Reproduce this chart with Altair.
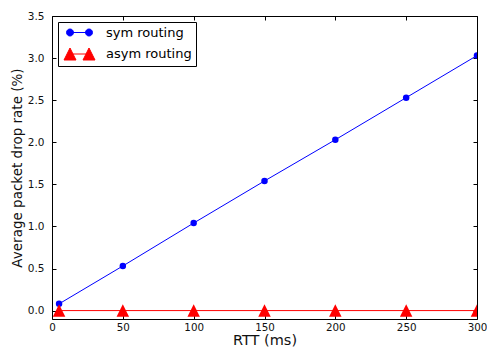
import altair as alt
import pandas as pd

# ---- data ----
rtt = [5, 50, 100, 150, 200, 250, 300]
sym_drop = [0.08, 0.53, 1.04, 1.54, 2.03, 2.53, 3.03]
asym_drop = [0.0, 0.0, 0.0, 0.0, 0.0, 0.0, 0.0]
series = ["sym routing", "asym routing"]
x_ticks = [0, 50, 100, 150, 200, 250, 300]
y_ticks = [0.0, 0.5, 1.0, 1.5, 2.0, 2.5, 3.0, 3.5]
x_domain = [0, 300]
y_domain = [-0.1, 3.5]

BLUE = "#0000ff"
RED = "#ff0000"
FONT = "DejaVu Sans"

sym_df = pd.DataFrame({"rtt": rtt, "drop": sym_drop, "series": series[0]})
asym_df = pd.DataFrame({"rtt": rtt, "drop": asym_drop, "series": series[1]})
all_df = pd.concat([sym_df, asym_df], ignore_index=True)

xs = alt.Scale(domain=x_domain, nice=False, zero=False)
ys = alt.Scale(domain=y_domain, nice=False, zero=False)

TRI = "M0,-1L1,1L-1,1Z"
# legend glyphs: two markers joined by a line (matplotlib numpoints=2)
LEG_SYM = ("M-1.9,0L1.9,0"
           "M-2.6,0A0.7,0.7 0 1,0 -1.2,0A0.7,0.7 0 1,0 -2.6,0Z"
           "M1.2,0A0.7,0.7 0 1,0 2.6,0A0.7,0.7 0 1,0 1.2,0Z")
LEG_ASYM = ("M-1.9,0L1.9,0"
            "M-1.9,-1.2L-0.7,1.2L-3.1,1.2Z"
            "M1.9,-1.2L3.1,1.2L0.7,1.2Z")


def label_axis_x():
    return alt.Axis(values=x_ticks, orient="bottom", domain=False, ticks=False,
                    grid=False, format="d", labelPadding=3, labelFlush=False,
                    labelOverlap=False, labelFontSize=10.3, labelColor="#111",
                    title="RTT (ms)", titleFontSize=14.5, titleFontWeight="normal",
                    titleColor="#111", titlePadding=1)


def label_axis_y():
    return alt.Axis(values=y_ticks, orient="left", domain=False, ticks=False,
                    grid=False, format=".1f", labelPadding=8, labelFlush=False,
                    labelOverlap=False, labelFontSize=10.5, labelColor="#111",
                    title="Average packet drop rate (%)", titleFontSize=13.5,
                    titleFontWeight="normal", titleColor="#111", titlePadding=3)


def tick_axis(vals, orient):
    return alt.Axis(values=vals, orient=orient, offset=-4, domain=False,
                    labels=False, ticks=True, tickSize=4, tickColor="black",
                    tickWidth=1, grid=False, title=None)


sym_line = alt.Chart(sym_df).mark_line(color=BLUE, strokeWidth=1, clip=True).encode(
    x=alt.X("rtt:Q", scale=xs, axis=label_axis_x()),
    y=alt.Y("drop:Q", scale=ys, axis=label_axis_y()),
)

sym_pts = alt.Chart(sym_df).mark_point(filled=True, shape="circle", size=42,
                                       color=BLUE, opacity=1, clip=True).encode(
    x=alt.X("rtt:Q", scale=xs, axis=tick_axis(x_ticks, "bottom")),
    y=alt.Y("drop:Q", scale=ys, axis=tick_axis(y_ticks, "left")),
)

asym_line = alt.Chart(asym_df).mark_line(color=RED, strokeWidth=1, clip=True).encode(
    x=alt.X("rtt:Q", scale=xs, axis=tick_axis(x_ticks, "top")),
    y=alt.Y("drop:Q", scale=ys, axis=tick_axis(y_ticks, "right")),
)

asym_pts = alt.Chart(asym_df).mark_point(filled=True, shape=TRI, size=156,
                                         color=RED, opacity=1, clip=True).encode(
    x=alt.X("rtt:Q", scale=xs, axis=None),
    y=alt.Y("drop:Q", scale=ys, axis=None),
)

legend_kw = dict(title=None, orient="none", legendX=6, legendY=6,
                 strokeColor="black", fillColor="white", padding=4,
                 cornerRadius=0, labelFont=FONT, labelFontSize=13,
                 labelColor="black", symbolSize=100, symbolStrokeWidth=1,
                 symbolOffset=11, labelOffset=20, rowPadding=5.5)

legend_layer = alt.Chart(all_df).transform_filter("false").mark_point(
    filled=True, size=100, strokeWidth=1, opacity=1).encode(
    x=alt.X("rtt:Q", scale=xs, axis=None),
    y=alt.Y("drop:Q", scale=ys, axis=None),
    fill=alt.Fill("series:N", scale=alt.Scale(domain=series, range=[BLUE, RED]),
                  legend=alt.Legend(**legend_kw)),
    stroke=alt.Stroke("series:N", scale=alt.Scale(domain=series, range=[BLUE, RED]),
                      legend=alt.Legend(**legend_kw)),
    shape=alt.Shape("series:N", scale=alt.Scale(domain=series, range=[LEG_SYM, LEG_ASYM]),
                    legend=alt.Legend(**legend_kw)),
)

chart = alt.layer(sym_line, sym_pts, asym_line, asym_pts, legend_layer).resolve_axis(
    x="independent", y="independent"
).properties(
    width=425, height=303,
    autosize=alt.AutoSizeParams(type="none"),
    padding={"left": 52, "top": 16, "right": 10, "bottom": 30},
    background="white",
).configure(font=FONT).configure_view(stroke="black", strokeWidth=1)

chart.save("out.html", embed_options={"renderer": "svg", "actions": False})
